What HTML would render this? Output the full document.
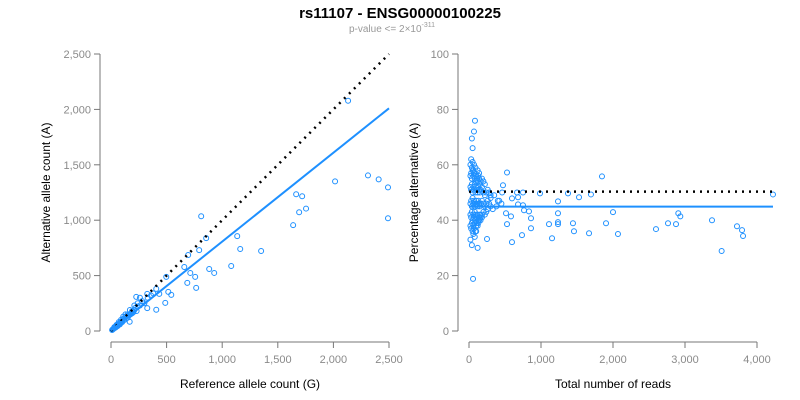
<!DOCTYPE html>
<html><head><meta charset="utf-8"><style>
body{margin:0;background:#fff;font-family:"Liberation Sans",Arial,sans-serif}
svg{display:block}
.tk{fill:#8a8a8a;font-size:11px}
.at{fill:#000;font-size:12px}
</style></head><body>
<svg id="c" width="800" height="400">
<text x="400" y="18" text-anchor="middle" font-weight="bold" font-size="15">rs11107 - ENSG00000100225</text>
<text x="392" y="32" text-anchor="middle" font-size="10" fill="#999">p-value &lt;= 2×10<tspan dy="-5" font-size="7">-311</tspan></text>
</svg>
<script>
const leftXTicks=[0,500,1000,1500,2000,2500];
const leftYTicks=[0,500,1000,1500,2000,2500];
const rightXTicks=[0,1000,2000,3000,4000];
const rightYTicks=[0,20,40,60,80,100];
const leftRef=[2132,2311,2407,2491,2491,2015,1665,1719,1692,1754,1638,1135,1162,1350,1081,811,856,793,694,659,883,928,713,757,766,686,497,488,407,515,542,407,434,326,326,227,168,380,360,330,300,280,260,240,230,220,210,200,190,180,170,160,150,140,130,120,110,100,95,90,85,80,75,70,65,60,55,50,45,40,35,30,25,20,15,10,260,240,210,190,170,150,130,120,110,100,90,80,70,60,50,40,30,200,175,145,115,88,66,44,28];
const leftAlt=[2078,1404,1368,1296,1018,1350,1234,1216,1072,1105,955,856,740,722,587,1036,838,730,686,578,560,524,524,488,389,434,488,254,192,353,326,380,335,335,206,308,84,340,320,300,250,270,230,220,180,210,190,170,180,160,150,140,150,120,130,100,110,90,80,85,70,75,60,65,55,50,52,40,45,36,30,28,22,18,14,9,300,250,230,160,190,120,150,100,130,80,100,60,80,45,55,30,35,170,150,135,100,80,55,40,25];
const rightTotal=[4222,1847,3375,3509,3722,3792,3806,2907,2935,2764,2875,2597,2000,1903,2069,1694,1528,1667,1375,1236,1236,1236,1236,1111,1153,1444,1458,986,833,861,861,750,764,750,736,681,681,667,597,583,597,528,528,514,472,250,56,83,69,40,50,
20,30,40,50,60,70,80,90,100,110,120,130,140,150,160,180,200,220,240,260,280,300,
20,30,40,50,60,70,80,90,100,110,120,130,140,150,160,180,200,220,240,260,280,300,
20,30,40,50,60,70,80,90,100,110,120,130,140,150,160,180,200,220,240,260,
20,30,40,50,60,70,80,90,100,110,120,130,140,150,160,180,200,220,
20,30,40,50,60,70,80,90,100,110,120,130,140,160,180,
20,30,40,50,60,70,80,90,100,120,140,
20,40,60,80,100,120,350,400,450,300,330,380,420,460];
const rightPct=[49.3,55.8,40,28.9,37.8,36.4,34.3,42.5,41.4,38.9,38.6,36.8,42.9,38.9,35,49.3,48.3,35.3,49.7,46.8,42.5,39.3,38.6,38.6,33.5,38.9,36,49.7,43.2,40.7,37.1,50,43.6,45.4,34.6,48.3,45.7,50,47.9,41.4,32.1,57.2,38.6,42.5,52.6,33.2,18.8,75.9,72,69.5,66,
46,47,45,48,46,47,45,46,47,46,45,47,46,45,46,47,46,45,46,47,46,45,
52,51,53,50,52,51,53,50,52,51,50,52,51,50,51,52,50,49,50,51,50,49,
42,41,43,40,42,41,43,40,42,41,42,40,41,42,41,42,43,42,43,44,
56,57,55,58,56,57,55,54,56,55,54,56,55,53,54,55,54,53,
38,37,39,36,38,37,39,36,38,39,38,39,40,40,41,
60,62,59,61,58,60,57,59,56,58,57,
33,31,35,34,36,30,49,47,46,48,44,45,47,50];
const NS="http://www.w3.org/2000/svg";
const svg=document.getElementById('c');
function mk(t,a){const e=document.createElementNS(NS,t);for(const k in a)e.setAttribute(k,a[k]);svg.appendChild(e);return e;}
function lin(d0,d1,p0,p1){return v=>p0+(v-d0)/(d1-d0)*(p1-p0);}
function fmt(v){return v.toLocaleString('en-US');}
function axes(pre,x,y,xt,yt,xa,ya,axLeft,axBottom,ytx,xlab,ylab){
 const yl=mk('line',{x1:axLeft,x2:axLeft,y1:y(yt[yt.length-1]),y2:y(yt[0]),stroke:'#777'});
 
 
 yt.forEach(v=>{mk('line',{x1:axLeft-6,x2:axLeft,y1:y(v),y2:y(v),stroke:'#777'});
  const t=mk('text',{x:axLeft-9,y:y(v)+4,'text-anchor':'end',class:'tk'});t.textContent=fmt(v);
  
  });
 const xl=mk('line',{x1:x(xt[0]),x2:x(xt[xt.length-1]),y1:axBottom,y2:axBottom,stroke:'#777'});
 
 
 xt.forEach(v=>{mk('line',{x1:x(v),x2:x(v),y1:axBottom,y2:axBottom+6,stroke:'#777'});
  const t=mk('text',{x:x(v),y:axBottom+21,'text-anchor':'middle',class:'tk'});t.textContent=fmt(v);
  
  });
 const xt2=mk('text',{x:(x(xt[0])+x(xt[xt.length-1]))/2,y:388,'text-anchor':'middle',class:'at'});xt2.textContent=xlab;
 
 
 const cy=(y(yt[0])+y(yt[yt.length-1]))/2;
 const yt2=mk('text',{x:ytx,y:cy,'text-anchor':'middle',class:'at',transform:`rotate(-90 ${ytx} ${cy})`});yt2.textContent=ylab;
 
 
}
// left
const lx=lin(0,2500,111,389), ly=lin(0,2500,331,54);
axes('left',lx,ly,leftXTicks,leftYTicks,0,0,100,342,50,'Reference allele count (G)','Alternative allele count (A)');
leftRef.forEach((r,i)=>{const c=mk('circle',{cx:lx(r),cy:ly(leftAlt[i]),r:2.5,fill:'none',stroke:'#1E90FF'});
 
 });
const ld=mk('line',{x1:lx(0),y1:ly(0),x2:lx(2500),y2:ly(2500),stroke:'#000','stroke-width':2.5,'stroke-dasharray':'2 5'});


const lf=mk('line',{x1:lx(0),y1:ly(5),x2:lx(2500),y2:ly(2010),stroke:'#1E90FF','stroke-width':2});


// right
const rx=lin(0,4000,469,757), ry=lin(0,100,331,54);
axes('right',rx,ry,rightXTicks,rightYTicks,0,0,458,342,418,'Total number of reads','Percentage alternative (A)');
rightTotal.forEach((t,i)=>{const c=mk('circle',{cx:rx(t),cy:ry(rightPct[i]),r:2.5,fill:'none',stroke:'#1E90FF'});
 
 });
const rd=mk('line',{x1:rx(0),y1:ry(50.3),x2:rx(4222),y2:ry(50.3),stroke:'#000','stroke-width':2.5,'stroke-dasharray':'2 5'});


const rf=mk('line',{x1:rx(0),y1:ry(44.9),x2:rx(4222),y2:ry(44.9),stroke:'#1E90FF','stroke-width':2});


</script>
</body></html>
